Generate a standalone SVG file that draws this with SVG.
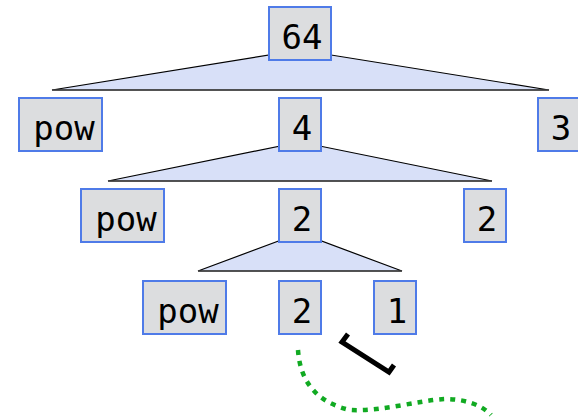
<svg xmlns="http://www.w3.org/2000/svg" width="578" height="418" viewBox="0 0 578 418">
<style>
.box{fill:#dcdddf;stroke:#4f7be8;stroke-width:2}
.lbl{font-family:"DejaVu Sans Mono","Liberation Mono",monospace;font-size:34px;fill:#000;text-anchor:middle}
.tri{fill:#d8e0f8;stroke:#000;stroke-width:1.2;stroke-linejoin:miter}
.base{stroke:#444;stroke-width:1.6}
</style>
<rect width="578" height="418" fill="#fff"/>
<g id="connectors">
<polygon class="tri" points="300,50 52,90 549,90"/>
<line class="base" x1="52" y1="90" x2="549" y2="90"/>
<polygon class="tri" points="300,142 108,181 492,181"/>
<line class="base" x1="108" y1="181" x2="492" y2="181"/>
<polygon class="tri" points="300,233 198,271 402,271"/>
<line class="base" x1="198" y1="271" x2="402" y2="271"/>
</g>
<g id="n64"><rect class="box" x="269" y="7" width="62" height="53"/><text class="lbl" x="302" y="49">64</text></g>
<g id="pow1"><rect class="box" x="19" y="98" width="83" height="53"/><text class="lbl" x="64" y="140">pow</text></g>
<g id="n4"><rect class="box" x="279" y="98" width="42" height="53"/><text class="lbl" x="302" y="140">4</text></g>
<g id="n3"><rect class="box" x="538" y="98" width="42" height="53"/><text class="lbl" x="561" y="140">3</text></g>
<g id="pow2"><rect class="box" x="81" y="189" width="83" height="53"/><text class="lbl" x="126" y="231">pow</text></g>
<g id="n2a"><rect class="box" x="279" y="189" width="42" height="53"/><text class="lbl" x="302" y="231">2</text></g>
<g id="n2b"><rect class="box" x="464" y="189" width="42" height="53"/><text class="lbl" x="487" y="231">2</text></g>
<g id="pow3"><rect class="box" x="143" y="281" width="83" height="53"/><text class="lbl" x="188" y="323">pow</text></g>
<g id="n2c"><rect class="box" x="279" y="281" width="42" height="53"/><text class="lbl" x="302" y="323">2</text></g>
<g id="n1"><rect class="box" x="374" y="281" width="42" height="53"/><text class="lbl" x="397" y="323">1</text></g>
<g id="marks">
<polyline points="348,334 342,342 389,372 394,365" fill="none" stroke="#000" stroke-width="5"/>
<path d="M298,350 C300,380 315,402 350,410 C380,412 420,400 445,399 C465,399 482,405 491,415" fill="none" stroke="#11aa22" stroke-width="4.5" stroke-dasharray="5 6"/>
</g>
</svg>
